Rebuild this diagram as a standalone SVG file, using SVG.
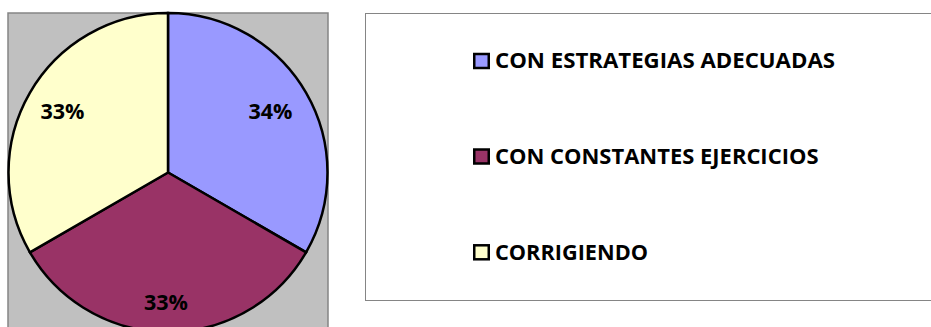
<svg xmlns="http://www.w3.org/2000/svg" width="931" height="327" viewBox="0 0 931 327">
<style>
text{font-family:"Open Sans","Noto Sans","Liberation Sans",sans-serif;font-weight:700;fill:#000;font-size:21.500px}
.s{stroke:#000;stroke-width:2.500}
.sw{stroke:#000;stroke-width:2.500}
</style>
<rect width="931" height="327" fill="#fff"/>
<g id="plot">
<rect x="8" y="13" width="320" height="330" fill="#c0c0c0" stroke="#858585" stroke-width="1.500"/>
</g>
<g id="pie">
<path class="s" fill="#9999ff" d="M168 172.500V13A159.500 159.500 0 0 1 306.100 252.300Z"/>
<path class="s" fill="#993366" d="M168 172.500L306.100 252.300A159.500 159.500 0 0 1 29.900 252.300Z"/>
<path class="s" fill="#ffffcc" d="M168 172.500L29.900 252.300A159.500 159.500 0 0 1 168 13Z"/>
</g>
<g id="labels">
<text x="248.500" y="119" textLength="44" lengthAdjust="spacingAndGlyphs">34%</text>
<text x="40.500" y="119" textLength="44" lengthAdjust="spacingAndGlyphs">33%</text>
<text x="144" y="310" textLength="44" lengthAdjust="spacingAndGlyphs">33%</text>
</g>
<g id="legend">
<rect x="365.500" y="13.500" width="570" height="287" fill="#fff" stroke="#858585" stroke-width="1"/>
<g id="legend-1"><rect class="sw" x="474.250" y="54" width="14.500" height="14" fill="#9999ff"/><text x="495" y="67.800" textLength="340" lengthAdjust="spacingAndGlyphs">CON ESTRATEGIAS ADECUADAS</text></g>
<g id="legend-2"><rect class="sw" x="474.250" y="149.500" width="14.500" height="14" fill="#993366"/><text x="495" y="163.800" textLength="323.500" lengthAdjust="spacingAndGlyphs">CON CONSTANTES EJERCICIOS</text></g>
<g id="legend-3"><rect class="sw" x="474.250" y="245.300" width="14.500" height="14" fill="#ffffcc"/><text x="495" y="259.600" textLength="153" lengthAdjust="spacingAndGlyphs">CORRIGIENDO</text></g>
</g>
</svg>
